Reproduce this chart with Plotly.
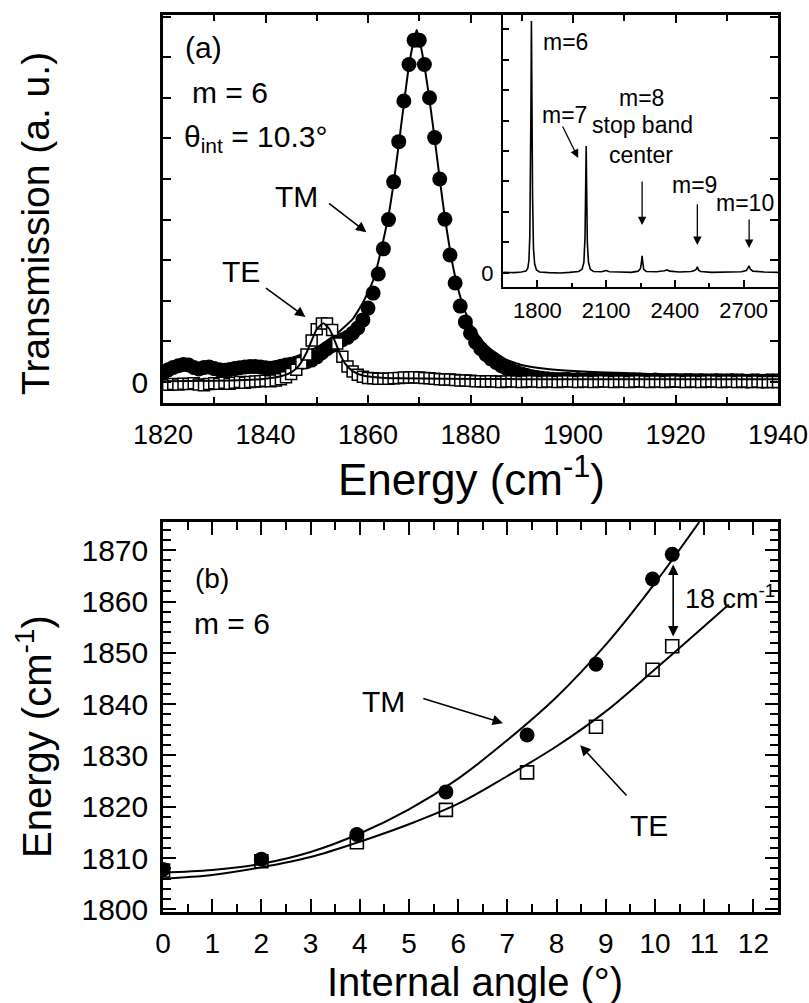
import plotly.graph_objects as go

# ---------------- data: panel (a) ----------------
energy_a = list(range(1820, 1941))  # sampling grid (cm-1)

tm_trans = [
    0.22, 0.30, 0.36, 0.40, 0.43, 0.42, 0.36, 0.32, 0.36, 0.37,   # 1820-1829
    0.33, 0.30, 0.29, 0.31, 0.33, 0.35, 0.37, 0.38, 0.38, 0.37,   # 1830-1839
    0.35, 0.34, 0.36, 0.39, 0.42, 0.44, 0.46, 0.48, 0.50, 0.54,   # 1840-1849
    0.62, 0.72, 0.82, 0.90, 0.98, 1.04, 1.10, 1.20, 1.33, 1.53,   # 1850-1859
    1.82, 2.19, 2.66, 3.28, 4.00, 4.93, 5.92, 6.92, 7.82, 8.42,   # 1860-1869
    8.42, 7.82, 7.00, 6.02, 5.00, 4.01, 3.13, 2.44, 1.87, 1.48,   # 1870-1879
    1.20, 0.98, 0.82, 0.68, 0.57, 0.48, 0.40, 0.34, 0.29, 0.24,   # 1880-1889
    0.20, 0.16, 0.13, 0.11, 0.09, 0.08, 0.07, 0.06, 0.06, 0.07,   # 1890-1899
    0.05, 0.06, 0.05, 0.06, 0.05, 0.04, 0.05, 0.06, 0.05, 0.04,   # 1900-1909
    0.05, 0.04, 0.05, 0.05, 0.04, 0.04, 0.05, 0.04, 0.03, 0.04,   # 1910-1919
    0.04, 0.03, 0.04, 0.04, 0.03, 0.04, 0.03, 0.03, 0.04, 0.03,   # 1920-1929
    0.03, 0.04, 0.03, 0.03, 0.02, 0.03, 0.03, 0.02, 0.03, 0.03,   # 1930-1939
    0.03,                                                         # 1940
]

te_trans = [
    -0.06, -0.07, -0.05, -0.06, -0.04, -0.05, -0.03, -0.06, -0.08, -0.05,  # 1820-1829
    -0.03, -0.04, -0.02, -0.04, -0.02, 0.00, -0.02, 0.00, 0.01, 0.02,      # 1830-1839
    0.03, 0.02, 0.04, 0.07, 0.12, 0.20, 0.30, 0.47, 0.68, 1.02,            # 1840-1849
    1.30, 1.44, 1.44, 1.28, 0.95, 0.62, 0.38, 0.26, 0.18, 0.13,            # 1850-1859
    0.10, 0.09, 0.08, 0.08, 0.08, 0.09, 0.10, 0.11, 0.11, 0.12,            # 1860-1869
    0.11, 0.10, 0.09, 0.08, 0.07, 0.06, 0.06, 0.05, 0.04, 0.04,            # 1870-1879
    0.03, 0.02, 0.02, 0.01, 0.02, 0.01, 0.00, 0.01, 0.02, 0.01,            # 1880-1889
    0.00, 0.01, 0.02, 0.01, 0.00, 0.01, 0.01, 0.00, 0.01, 0.02,            # 1890-1899
    0.01, 0.00, 0.01, 0.01, 0.00, 0.01, 0.02, 0.01, 0.00, 0.01,            # 1900-1909
    0.01, 0.00, 0.01, 0.02, 0.01, 0.00, 0.01, 0.01, 0.00, 0.01,            # 1910-1919
    0.02, 0.01, 0.00, 0.01, 0.01, 0.00, 0.01, 0.02, 0.01, 0.00,            # 1920-1929
    0.01, 0.01, 0.00, 0.01, 0.01, 0.00, 0.01, 0.00, 0.00, 0.00,            # 1930-1939
    0.00,                                                                  # 1940
]

tm_fit_x = [1820, 1830, 1840, 1845, 1850, 1854, 1857, 1859, 1861, 1862, 1863,
            1864, 1865, 1866, 1867, 1868, 1869, 1869.5, 1870, 1871, 1872, 1873,
            1874, 1875, 1876, 1877, 1878, 1879, 1880, 1882, 1884, 1887, 1890,
            1895, 1900, 1910, 1920, 1930, 1940]
tm_fit_y = [0.30, 0.33, 0.45, 0.58, 0.85, 1.20, 1.55, 1.95, 2.50, 2.95, 3.50,
            4.10, 4.90, 5.85, 6.85, 7.80, 8.45, 8.67, 8.45, 7.80, 6.95, 6.00,
            5.00, 4.05, 3.25, 2.60, 2.10, 1.72, 1.45, 1.05, 0.80, 0.55, 0.42,
            0.32, 0.27, 0.22, 0.18, 0.16, 0.14]

te_fit_x = [1820, 1830, 1836, 1840, 1843, 1845, 1846.5, 1848, 1849, 1850, 1851.3,
            1852.5, 1853.5, 1854.5, 1855.5, 1857, 1859, 1862, 1866, 1875, 1890,
            1910, 1940]
te_fit_y = [0.02, 0.03, 0.05, 0.08, 0.14, 0.24, 0.40, 0.72, 1.02, 1.30, 1.45,
            1.30, 1.02, 0.70, 0.46, 0.27, 0.16, 0.11, 0.09, 0.08, 0.07,
            0.07, 0.07]

# ---------------- data: inset ----------------
inset_x = [1652, 1700, 1730, 1750, 1758, 1763, 1767, 1770, 1772, 1774, 1776, 1779,
           1783, 1788, 1796, 1810, 1850, 1900, 1940, 1980, 1995, 2003, 2008, 2011,
           2013, 2015, 2018, 2023, 2031, 2045, 2080, 2100, 2115, 2160, 2210, 2240,
           2250, 2254, 2257, 2260, 2264, 2275, 2320, 2355, 2366, 2377, 2420, 2470,
           2486, 2493, 2498, 2503, 2512, 2560, 2620, 2690, 2712, 2719, 2724, 2729,
           2740, 2790, 2850]
inset_y = [0.02, 0.01, 0.03, 0.06, 0.15, 0.40, 1.20, 3.00, 5.50, 8.26, 5.50, 2.50,
           0.80, 0.30, 0.10, 0.03, 0.01, 0.00, 0.02, 0.05, 0.12, 0.35, 1.20, 2.80,
           4.16, 2.80, 1.00, 0.35, 0.12, 0.05, 0.04, 0.08, 0.04, 0.03, 0.02, 0.06,
           0.15, 0.35, 0.56, 0.35, 0.12, 0.05, 0.04, 0.07, 0.10, 0.06, 0.03, 0.05,
           0.08, 0.12, 0.20, 0.10, 0.05, 0.02, 0.03, 0.04, 0.08, 0.15, 0.23, 0.13,
           0.06, 0.03, 0.02]

# ---------------- data: panel (b) ----------------
angle_pts = [0, 2, 3.94, 5.75, 7.4, 8.8, 9.95, 10.35]
tm_energy = [1807.8, 1809.8, 1814.6, 1822.9, 1834.0, 1847.8, 1864.4, 1869.2]
te_energy = [1807.6, 1809.4, 1813.1, 1819.4, 1826.7, 1835.6, 1846.7, 1851.3]

tm_curve_x = [0, 1, 2, 3, 4, 5, 6, 7, 8, 9, 10, 10.9]
tm_curve_y = [1807.2, 1807.7, 1808.9, 1811.2, 1814.8, 1819.5, 1825.5, 1833.0,
              1841.4, 1851.6, 1863.6, 1875.5]
te_curve_x = [0, 1, 2, 3, 4, 5, 6, 7, 8, 9, 10, 11, 11.5]
te_curve_y = [1806.0, 1806.7, 1808.2, 1810.2, 1813.2, 1816.6, 1820.6, 1826.0,
              1831.8, 1838.6, 1846.8, 1855.2, 1859.4]

# ---------------- figure ----------------
W, H = 809, 1003
FONT = "Arial, Liberation Sans, sans-serif"


def fx(p):
    return p / W


def fy(p):
    return 1 - p / H


fig = go.Figure()

# panel (a)
fig.add_trace(go.Scatter(x=energy_a, y=tm_trans, mode="markers", xaxis="x", yaxis="y",
                         marker=dict(symbol="circle", size=15, color="black",
                                     line=dict(width=0))))
fig.add_trace(go.Scatter(x=tm_fit_x, y=tm_fit_y, mode="lines", xaxis="x", yaxis="y",
                         line=dict(color="black", width=2, shape="spline", smoothing=0.4)))
fig.add_trace(go.Scatter(x=energy_a, y=te_trans, mode="markers", xaxis="x", yaxis="y",
                         marker=dict(symbol="square", size=11, color="white",
                                     line=dict(width=1.5, color="black"))))
fig.add_trace(go.Scatter(x=te_fit_x, y=te_fit_y, mode="lines", xaxis="x", yaxis="y",
                         line=dict(color="black", width=2, shape="spline", smoothing=0.5)))

# inset
fig.add_trace(go.Scatter(x=inset_x, y=inset_y, mode="lines", xaxis="x3", yaxis="y3",
                         line=dict(color="black", width=1.6)))

# panel (b)
fig.add_trace(go.Scatter(x=angle_pts, y=te_energy, mode="markers", xaxis="x2", yaxis="y2",
                         marker=dict(symbol="square", size=13, color="white",
                                     line=dict(width=1.6, color="black"))))
fig.add_trace(go.Scatter(x=angle_pts, y=tm_energy, mode="markers", xaxis="x2", yaxis="y2",
                         marker=dict(symbol="circle", size=15, color="black")))
fig.add_trace(go.Scatter(x=tm_curve_x, y=tm_curve_y, mode="lines", xaxis="x2", yaxis="y2",
                         line=dict(color="black", width=2, shape="spline")))
fig.add_trace(go.Scatter(x=te_curve_x, y=te_curve_y, mode="lines", xaxis="x2", yaxis="y2",
                         line=dict(color="black", width=2, shape="spline")))

common = dict(showgrid=False, zeroline=False, showline=True, linecolor="black",
              automargin=False, ticks="inside", tickcolor="black",
              tickfont=dict(family=FONT, size=27, color="black"))

fig.update_layout(
    width=W, height=H, margin=dict(l=0, r=0, t=0, b=0, autoexpand=False),
    paper_bgcolor="white", plot_bgcolor="rgba(0,0,0,0)", showlegend=False,
    font=dict(family=FONT, color="black"),
    xaxis=dict(**common, domain=[fx(163), fx(778)], anchor="y", range=[1820, 1940],
               tickmode="linear", tick0=1820, dtick=20, ticklen=8, tickwidth=2,
               linewidth=2.5, mirror="allticks", ticklabelstandoff=6,
               minor=dict(dtick=10, ticklen=6, tickwidth=2, ticks="inside", tickcolor="black")),
    yaxis=dict(**common, domain=[fy(403), fy(15)], anchor="x", range=[-0.517, 9.04],
               tickmode="array", tickvals=list(range(0, 10)),
               ticktext=["0"] + [""] * 9, ticklen=8, tickwidth=2, linewidth=2.5,
               mirror="allticks", ticklabelstandoff=6),
    xaxis2=dict(**common, domain=[fx(163), fx(778)], anchor="y2", range=[0, 12.5],
                tickmode="linear", tick0=0, dtick=1, ticklen=13, tickwidth=2,
                linewidth=2.5, mirror="allticks", ticklabelstandoff=5,
                minor=dict(dtick=0.5, ticklen=8, tickwidth=2, ticks="inside", tickcolor="black")),
    yaxis2=dict(**common, domain=[fy(912), fy(522)], anchor="x2", range=[1799.5, 1875.5],
                tickmode="linear", tick0=1800, dtick=10, ticklen=13, tickwidth=2,
                linewidth=2.5, mirror="allticks", ticklabelstandoff=6,
                minor=dict(dtick=2, ticklen=8, tickwidth=2, ticks="inside", tickcolor="black")),
    xaxis3=dict(**common, domain=[fx(503), fx(778)], anchor="y3", range=[1650, 2850],
                tickmode="linear", tick0=1800, dtick=300, ticklen=7, tickwidth=2,
                linewidth=2, mirror=True, ticklabelstandoff=3,
                minor=dict(dtick=150, ticklen=4, tickwidth=2, ticks="inside", tickcolor="black")),
    yaxis3=dict(**common, domain=[fy(287), fy(15)], anchor="x3", range=[-0.46, 8.46],
                tickmode="array", tickvals=list(range(0, 9)),
                ticktext=["0"] + [""] * 8, ticklen=6, tickwidth=1.5, linewidth=2,
                mirror=True, ticklabelstandoff=3),
)
fig.update_layout(xaxis3_tickfont_size=22, yaxis3_tickfont_size=22,
                  yaxis_tickfont_size=30, xaxis2_tickfont_size=28, yaxis2_tickfont_size=30)

ann = []


def text(x, y, s, size, xref, yref, xanchor="center", angle=0):
    ann.append(dict(x=x, y=y, text=s, xref=xref, yref=yref, showarrow=False,
                    xanchor=xanchor, yanchor="middle", textangle=angle,
                    font=dict(family=FONT, size=size, color="black")))


def arrow(x0, y0, x1, y1, xref, yref, both=False, width=1.6):
    ann.append(dict(x=x1, y=y1, ax=x0, ay=y0, xref=xref, yref=yref, axref=xref, ayref=yref,
                    text="", showarrow=True, arrowhead=2, arrowsize=1.3, arrowwidth=width,
                    arrowcolor="black", arrowside="end+start" if both else "end",
                    startarrowhead=2, startarrowsize=1.3))


# axis titles
text(fx(36), fy(224), "Transmission (a. u.)", 39, "paper", "paper", angle=-90)
text(fx(471), fy(476), "Energy (cm<sup>-1</sup>)", 44, "paper", "paper")
text(fx(34), fy(737), "Energy (cm<sup>-1</sup>)", 40, "paper", "paper", angle=-90)
text(fx(475), fy(982), "Internal angle (°)", 40, "paper", "paper")

# panel (a) texts
text(1827.9, 8.25, "(a)", 30, "x", "y")
text(1833.0, 7.14, "m = 6", 30, "x", "y")
text(1823.8, 6.0, "θ<sub>int</sub> = 10.3°", 30, "x", "y", xanchor="left")
text(1846.0, 4.56, "TM", 30, "x", "y")
text(1835.3, 2.71, "TE", 30, "x", "y")
arrow(1852.1, 4.43, 1859.7, 3.69, "x", "y")
arrow(1839.8, 2.34, 1847.8, 1.60, "x", "y")

# inset texts
text(1921, 7.57, "m=6", 23, "x3", "y3")
text(1917, 5.18, "m=7", 23, "x3", "y3")
text(2253, 5.74, "m=8", 23, "x3", "y3")
text(2257, 4.85, "stop band", 23, "x3", "y3")
text(2253, 3.87, "center", 23, "x3", "y3")
text(2485, 2.89, "m=9", 23, "x3", "y3")
text(2707, 2.30, "m=10", 23, "x3", "y3")
arrow(1907, 4.85, 1978, 3.77, "x3", "y3", width=1.3)
arrow(2257, 3.05, 2257, 1.57, "x3", "y3", width=1.3)
arrow(2498, 2.30, 2498, 0.92, "x3", "y3", width=1.3)
arrow(2724, 1.80, 2724, 0.82, "x3", "y3", width=1.3)

# panel (b) texts
text(1.0, 1864.5, "(b)", 28, "x2", "y2")
text(1.40, 1855.7, "m = 6", 30, "x2", "y2")
text(4.49, 1840.6, "TM", 30, "x2", "y2")
text(9.88, 1816.4, "TE", 30, "x2", "y2")
text(10.57, 1860.9, "18 cm<sup>-1</sup>", 27, "x2", "y2", xanchor="left")
arrow(5.26, 1841.2, 6.91, 1836.3, "x2", "y2")
arrow(9.45, 1821.9, 8.48, 1832.0, "x2", "y2")
arrow(10.37, 1852.9, 10.37, 1867.2, "x2", "y2", both=True)

fig.update_layout(annotations=ann)

fig.write_html("out.html",
               config={"displayModeBar": False},
               post_script="document.body.style.margin='0px';"
                           "document.body.style.overflow='hidden';")
